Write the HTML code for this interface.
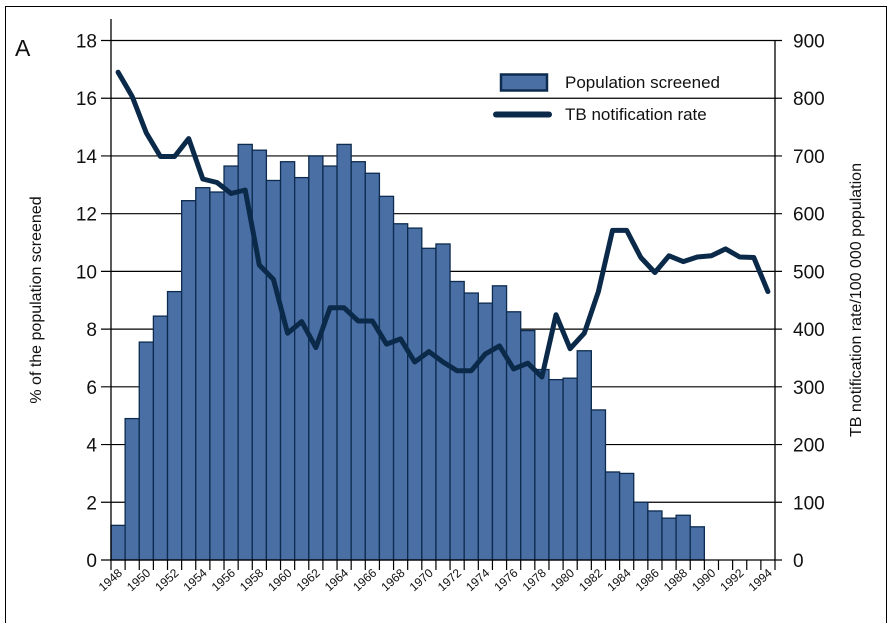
<!DOCTYPE html>
<html><head><meta charset="utf-8"><style>
body{margin:0;background:#fff}
svg{display:block;font-family:"Liberation Sans",sans-serif}
</style></head><body>
<svg id="chart" width="892" height="623" viewBox="0 0 892 623" xmlns="http://www.w3.org/2000/svg">
<rect x="5.5" y="6.5" width="881" height="640" fill="none" stroke="#000" stroke-width="1"/>
<text x="15" y="56" font-size="23" fill="#111">A</text>
<g id="grid"></g><g id="bars"></g><g id="axes"></g><g id="line"></g>
<text transform="translate(41,300) rotate(-90)" text-anchor="middle" font-size="16" fill="#111">% of the population screened</text>
<text transform="translate(861,300) rotate(-90)" text-anchor="middle" font-size="16" fill="#111">TB notification rate/100 000 population</text>
<g>
<rect x="501" y="74.5" width="46" height="16" fill="#4a6fa5" stroke="#0d2b4e" stroke-width="2.5"/>
<text x="565" y="88" font-size="17" fill="#111">Population screened</text>
<line x1="496" y1="114.5" x2="549" y2="114.5" stroke="#0b2a4a" stroke-width="6" stroke-linecap="round"/>
<text x="565" y="120" font-size="17" fill="#111">TB notification rate</text>
</g>
</svg>
<script>
const years=[];for(let y=1948;y<=1994;y++)years.push(y);
const screenedYears=[1948,1949,1950,1951,1952,1953,1954,1955,1956,1957,1958,1959,1960,1961,1962,1963,1964,1965,1966,1967,1968,1969,1970,1971,1972,1973,1974,1975,1976,1977,1978,1979,1980,1981,1982,1983,1984,1985,1986,1987,1988,1989];
const screenedPct=[1.2,4.9,7.55,8.45,9.3,12.45,12.9,12.75,13.65,14.4,14.2,13.15,13.8,13.25,14.0,13.65,14.4,13.8,13.4,12.6,11.65,11.5,10.8,10.95,9.65,9.25,8.9,9.5,8.6,7.95,6.6,6.25,6.3,7.25,5.2,3.05,3.0,2.0,1.7,1.45,1.55,1.15];
const tbRate=[845,803,740,699,699,730,660,654,635,641,511,486,393,413,368,437,437,414,414,374,383,343,361,343,328,328,357,371,331,341,317,425,366,393,465,571,571,524,498,527,517,525,527,539,525,524,465];
const leftTicks=[0,2,4,6,8,10,12,14,16,18];
const rightTicks=[0,100,200,300,400,500,600,700,800,900];
const NS="http://www.w3.org/2000/svg";
const X0=111,X1=775,Y0=560,Y18=40.5;
const band=(X1-X0)/years.length;
const xL=y=>X0+(y-1948)*band;
const xC=y=>xL(y)+band/2;
const yL=v=>Y0-(Y0-Y18)*v/18;
const yR=v=>Y0-(Y0-Y18)*v/900;
function mk(tag,attrs,parent){const e=document.createElementNS(NS,tag);for(const k in attrs)e.setAttribute(k,attrs[k]);parent.appendChild(e);return e;}
const grid=document.getElementById('grid'),bars=document.getElementById('bars'),axes=document.getElementById('axes'),lineG=document.getElementById('line');
leftTicks.forEach((t,i)=>{
  const y=yL(t);
  if(t>0){const g=mk('line',{x1:X0-10,x2:X1+7,y1:y,y2:y,stroke:'#000','stroke-width':1.2},grid);
  
  }
  const tx=mk('text',{x:X0-14,y:y+7,'text-anchor':'end','font-size':19,fill:'#111'},axes);tx.textContent=t;
  
  
});
rightTicks.forEach(t=>{
  const tx=mk('text',{x:X1+18,y:yR(t)+7,'font-size':19,fill:'#111'},axes);tx.textContent=t;
  
  
});
screenedYears.forEach((yr,i)=>{
  const r=mk('rect',{x:xL(yr),y:yL(screenedPct[i]),width:band,height:Y0-yL(screenedPct[i]),fill:'#4a6fa5',stroke:'#0d2b4e','stroke-width':1.3},bars);
  
  
});
let a=mk('line',{x1:X0,x2:X0,y1:19,y2:Y0,stroke:'#000','stroke-width':1.3},axes);


a=mk('line',{x1:X1,x2:X1,y1:Y18,y2:Y0,stroke:'#000','stroke-width':1.3},axes);


a=mk('line',{x1:X0-10,x2:X1+7,y1:Y0,y2:Y0,stroke:'#000','stroke-width':1.3},axes);


for(let i=0;i<=years.length;i++){
  const x=X0+i*band;
  const tk=mk('line',{x1:x,x2:x,y1:Y0,y2:Y0+10,stroke:'#000','stroke-width':1.2},axes);
  
  
}
years.forEach(yr=>{
  if((yr-1948)%2)return;
  const x=xL(yr)+12,y=Y0+14;
  const tx=mk('text',{x:x,y:y,'text-anchor':'end','font-size':12,fill:'#111',transform:`rotate(-42 ${x} ${y})`},axes);tx.textContent=yr;
  
  
});
const pts=years.map((yr,i)=>xC(yr).toFixed(1)+','+yR(tbRate[i]).toFixed(1)).join(' ');
const pl=mk('polyline',{points:pts,fill:'none',stroke:'#0b2a4a','stroke-width':5,'stroke-linejoin':'round','stroke-linecap':'round'},lineG);


</script>
</body></html>
